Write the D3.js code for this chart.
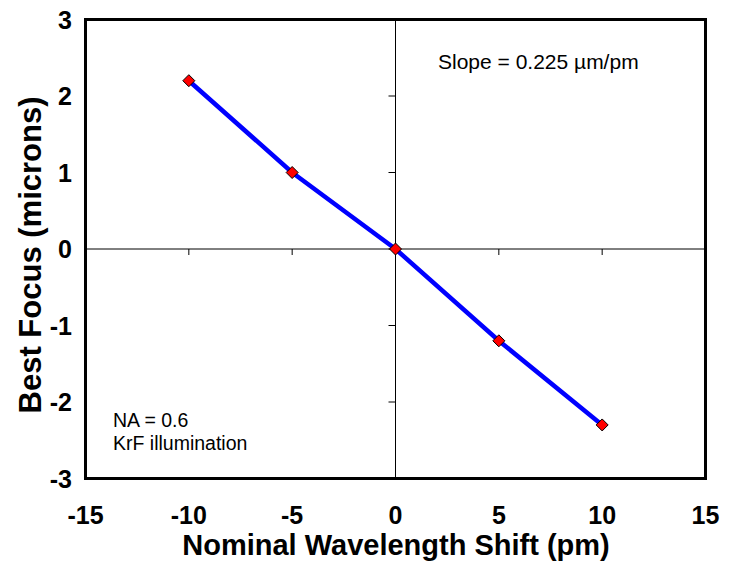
<!DOCTYPE html>
<html><head><meta charset="utf-8">
<script src="https://cdn.jsdelivr.net/npm/d3@7/dist/d3.min.js"></script>
<style>body{margin:0;background:#fff}svg{display:block}text{font-family:"Liberation Sans",Arial,sans-serif}</style>
</head><body>
<svg id="c" width="730" height="565"></svg>
<script>
const shifts = [-10, -5, 0, 5, 10];
const focus = [2.2, 1.0, 0.0, -1.2, -2.3];
const xTicks = [-15, -10, -5, 0, 5, 10, 15];
const yTicks = [-3, -2, -1, 0, 1, 2, 3];
const xTitle = "Nominal Wavelength Shift (pm)";
const yTitle = "Best Focus (microns)";
const notes = ["Slope = 0.225 \u00b5m/pm", "NA = 0.6", "KrF illumination"];

const svg = d3.select("#c");
const x = d3.scaleLinear().domain([-15, 15]).range([85.5, 705.5]);
const y = d3.scaleLinear().domain([-3, 3]).range([478.5, 19.5]);

// zero axes
svg.append("line").attr("x1", x(-15)).attr("x2", x(15)).attr("y1", y(0)).attr("y2", y(0))
  .attr("stroke", "#000").attr("stroke-width", 1);
svg.append("line").attr("x1", x(0)).attr("x2", x(0)).attr("y1", y(-3)).attr("y2", y(3))
  .attr("stroke", "#000").attr("stroke-width", 1);
// ticks on zero axes
svg.selectAll(".yt").data(yTicks).enter().append("line")
  .attr("x1", x(0) - 7).attr("x2", x(0)).attr("y1", d => y(d)).attr("y2", d => y(d))
  .attr("stroke", "#000").attr("stroke-width", 1);
svg.selectAll(".xt").data(xTicks.filter(d => d !== 0)).enter().append("line")
  .attr("x1", d => x(d)).attr("x2", d => x(d)).attr("y1", y(0)).attr("y2", y(0) + 6)
  .attr("stroke", "#000").attr("stroke-width", 1);

// frame
svg.append("rect").attr("x", x(-15)).attr("y", y(3))
  .attr("width", x(15) - x(-15)).attr("height", y(-3) - y(3))
  .attr("fill", "none").attr("stroke", "#000").attr("stroke-width", 3);

// tick labels
svg.selectAll(".xl").data(xTicks).enter().append("text")
  .attr("x", d => x(d)).attr("y", 524).attr("text-anchor", "middle")
  .attr("font-size", 25).attr("font-weight", "bold").text(d => d);
svg.selectAll(".yl").data(yTicks).enter().append("text")
  .attr("x", 72).attr("y", d => y(d) + 9).attr("text-anchor", "end")
  .attr("font-size", 25).attr("font-weight", "bold").text(d => d);

// titles
svg.append("text").attr("x", 396).attr("y", 555).attr("text-anchor", "middle")
  .attr("font-size", 29).attr("font-weight", "bold").text(xTitle);
svg.append("text").attr("transform", "translate(41,255) rotate(-90)").attr("text-anchor", "middle")
  .attr("font-size", 31).attr("font-weight", "bold").text(yTitle);

// data line and markers
const pts = shifts.map((s, i) => [s, focus[i]]);
svg.append("path").datum(pts)
  .attr("d", d3.line().x(d => x(d[0])).y(d => y(d[1])))
  .attr("fill", "none").attr("stroke", "#0000ff").attr("stroke-width", 4.5);
svg.selectAll(".m").data(pts).enter().append("path")
  .attr("transform", d => `translate(${x(d[0])},${y(d[1])})`)
  .attr("d", "M0,-6L6,0L0,6L-6,0Z")
  .attr("fill", "#ff0000").attr("stroke", "#000").attr("stroke-width", 1);

// annotations
svg.append("text").attr("x", 438).attr("y", 69).attr("font-size", 21).text(notes[0]);
svg.append("text").attr("x", 113).attr("y", 427).attr("font-size", 19.5).text(notes[1]);
svg.append("text").attr("x", 113).attr("y", 450).attr("font-size", 19.5).text(notes[2]);
</script>
</body></html>
